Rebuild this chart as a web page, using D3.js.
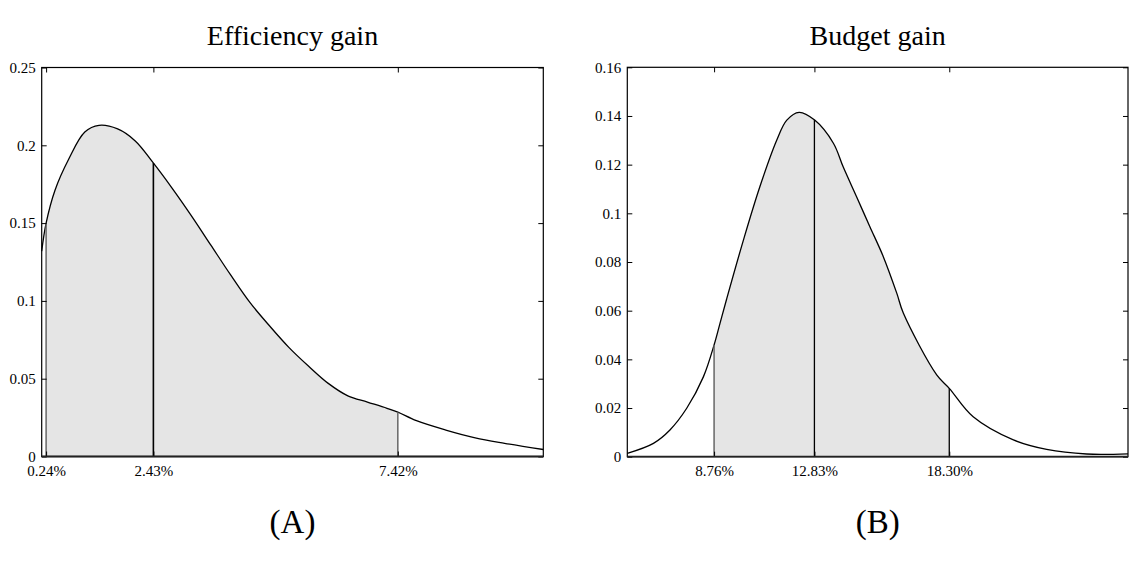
<!DOCTYPE html>
<html>
<head>
<meta charset="utf-8">
<script src="https://cdn.jsdelivr.net/npm/d3@7"></script>
<style>
  body { margin: 0; background: #fff; }
  text { font-family: "Liberation Serif", "DejaVu Serif", serif; fill: #000; }
</style>
</head>
<body>
<svg></svg>
<script>
// Panel A: efficiency gain density (x in %, y density)
const effX = [0.15, 0.24, 0.42, 0.70, 1.03, 1.32, 1.70, 2.06, 2.42, 2.80, 3.20, 3.60, 4.00, 4.40, 4.80, 5.20, 5.60, 6.00, 6.40, 6.80, 7.20, 7.42, 7.80, 8.40, 9.00, 9.60, 10.39];
const effY = [0.132, 0.150, 0.171, 0.191, 0.2085, 0.2128, 0.2105, 0.2028, 0.189, 0.173, 0.155, 0.136, 0.117, 0.099, 0.084, 0.070, 0.058, 0.047, 0.039, 0.035, 0.031, 0.0285, 0.023, 0.017, 0.012, 0.0085, 0.0045];
const effMarks = [0.24, 2.43, 7.42];
const effMarkLabels = ["0.24%", "2.43%", "7.42%"];
const effYTicks = [0, 0.05, 0.1, 0.15, 0.2, 0.25];

// Panel B: budget gain density
const budX = [5.24, 6.30, 6.97, 7.65, 8.33, 8.76, 9.00, 9.27, 9.95, 10.62, 11.30, 11.71, 12.21, 12.84, 13.60, 14.00, 14.54, 15.08, 15.62, 16.17, 16.44, 17.79, 18.30, 19.27, 20.90, 22.25, 23.87, 25.55];
const budY = [0.0014, 0.0055, 0.011, 0.0199, 0.0329, 0.0459, 0.0548, 0.0648, 0.089, 0.111, 0.130, 0.1383, 0.1415, 0.1383, 0.1288, 0.119, 0.1068, 0.0945, 0.0823, 0.0672, 0.0589, 0.0336, 0.0281, 0.0164, 0.0069, 0.003, 0.0011, 0.0012];
const budMarks = [8.76, 12.83, 18.30];
const budMarkLabels = ["8.76%", "12.83%", "18.30%"];
const budYTicks = [0, 0.02, 0.04, 0.06, 0.08, 0.1, 0.12, 0.14, 0.16];

const svg = d3.select("svg").attr("width", 1131).attr("height", 576);

function drawPanel(p) {
    const x = d3.scaleLinear().domain([p.xs[0], p.xs[p.xs.length - 1]]).range([p.left, p.right]);
    const y = d3.scaleLinear().domain([0, p.yTicks[p.yTicks.length - 1]]).range([p.bottom, p.top]);
    const pts = p.xs.map((v, i) => [v, p.ys[i]]);
    const g = svg.append("g");

    // shaded interval (clipped area under the curve)
    const clipId = "clip" + p.id;
    svg.append("clipPath").attr("id", clipId)
        .append("rect")
        .attr("x", x(p.marks[0])).attr("y", p.top)
        .attr("width", x(p.marks[2]) - x(p.marks[0])).attr("height", p.bottom - p.top);

    const smooth = d3.curveCatmullRom.alpha(0.5);
    const area = d3.area().x(d => x(d[0])).y0(y(0)).y1(d => y(d[1])).curve(smooth);
    const line = d3.line().x(d => x(d[0])).y(d => y(d[1])).curve(smooth);

    g.append("path").attr("d", area(pts)).attr("fill", "#e5e5e5").attr("clip-path", `url(#${clipId})`);

    const curve = g.append("path").attr("d", line(pts))
        .attr("fill", "none").attr("stroke", "#000").attr("stroke-width", 1.3);

    // find curve height at a given x pixel
    const node = curve.node();
    const total = node.getTotalLength();
    function yAt(px) {
        let lo = 0, hi = total;
        for (let k = 0; k < 40; k++) {
            const mid = (lo + hi) / 2;
            if (node.getPointAtLength(mid).x < px) lo = mid; else hi = mid;
        }
        return node.getPointAtLength((lo + hi) / 2).y;
    }

    p.marks.forEach((m, i) => {
        g.append("line")
            .attr("x1", x(m)).attr("x2", x(m))
            .attr("y1", y(0)).attr("y2", yAt(x(m)))
            .attr("stroke", p.markColors[i]).attr("stroke-width", p.markWidths[i]);
    });

    // axes with inward ticks
    g.append("g").attr("transform", `translate(${p.left},0)`)
        .call(d3.axisLeft(y).tickValues(p.yTicks).tickSize(-5).tickPadding(6).tickFormat(d => String(d)))
        .call(a => a.select(".domain").remove());
    g.append("g").attr("transform", `translate(${p.right},0)`)
        .call(d3.axisRight(y).tickValues(p.yTicks).tickSize(-5).tickFormat(""))
        .call(a => a.select(".domain").remove());
    g.append("g").attr("transform", `translate(0,${p.top})`)
        .call(d3.axisTop(x).tickValues(p.marks).tickSize(-5).tickFormat(""))
        .call(a => a.select(".domain").remove());
    g.append("g").attr("transform", `translate(0,${p.bottom})`)
        .call(d3.axisBottom(x).tickValues(p.marks).tickSize(-5).tickPadding(9).tickFormat((d, i) => p.markLabels[i]))
        .call(a => a.select(".domain").remove());

    g.selectAll(".tick text").style("font-family", '"Liberation Serif", serif').style("font-size", "15px").attr("fill", "#000");
    g.selectAll(".tick line").attr("stroke", "#000");

    // frame
    g.append("rect")
        .attr("x", p.left).attr("y", p.top)
        .attr("width", p.right - p.left).attr("height", p.bottom - p.top)
        .attr("fill", "none").attr("stroke", "#000").attr("stroke-width", 1.2);
    g.append("line")
        .attr("x1", p.left).attr("x2", p.right).attr("y1", p.bottom).attr("y2", p.bottom)
        .attr("stroke", "#222").attr("stroke-width", 1.8);

    const cx = (p.left + p.right) / 2;
    svg.append("text").attr("x", cx).attr("y", 45).attr("text-anchor", "middle")
        .style("font-size", "28px").text(p.title);
    svg.append("text").attr("x", cx).attr("y", 533).attr("text-anchor", "middle")
        .style("font-size", "33px").text(p.label);
}

drawPanel({
    id: "A", xs: effX, ys: effY, marks: effMarks, markLabels: effMarkLabels, yTicks: effYTicks,
    markColors: ["#666", "#000", "#666"], markWidths: [1.5, 1.6, 1.5],
    left: 41.7, right: 543.3, top: 67.5, bottom: 456.5,
    title: "Efficiency gain", label: "(A)"
});

drawPanel({
    id: "B", xs: budX, ys: budY, marks: budMarks, markLabels: budMarkLabels, yTicks: budYTicks,
    markColors: ["#666", "#000", "#000"], markWidths: [1.5, 1.3, 1.3],
    left: 627.3, right: 1128, top: 67.3, bottom: 456.7,
    title: "Budget gain", label: "(B)"
});
</script>
</body>
</html>
